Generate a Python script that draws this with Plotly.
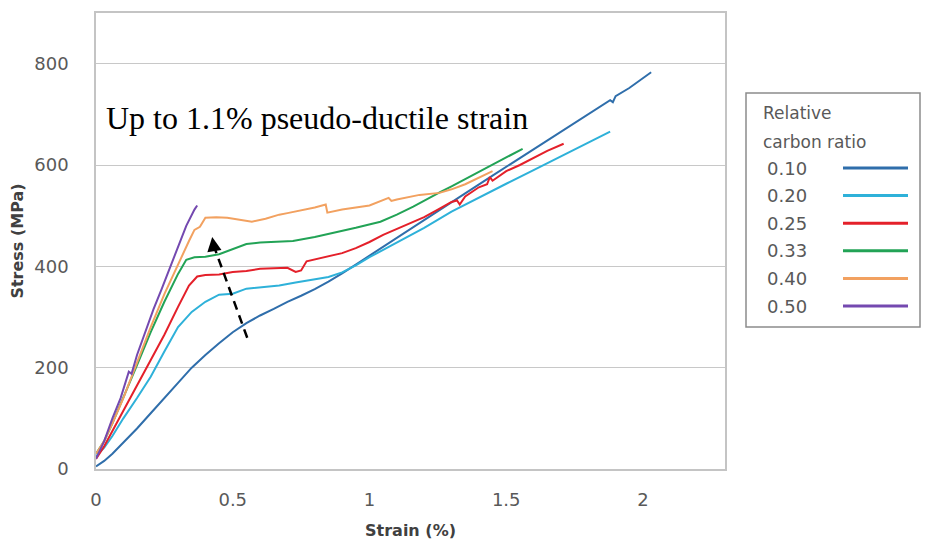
import plotly.graph_objects as go

# ---- data ----
ratio_labels = ["0.10", "0.20", "0.25", "0.33", "0.40", "0.50"]
colors = ["#2F6EAB", "#2EB1D9", "#E4202A", "#22A356", "#F2A160", "#7449B0"]

x_010 = [0, 0.03, 0.06, 0.1, 0.15, 0.2, 0.25, 0.3, 0.35, 0.4, 0.45, 0.5, 0.55, 0.6, 0.65, 0.7, 0.75, 0.8, 0.85,
         0.9, 0.96, 1.05, 1.15, 1.25, 1.35, 1.45, 1.55, 1.65, 1.75, 1.85, 1.88, 1.89, 1.9, 1.95, 2.0, 2.03]
y_010 = [5, 16, 30, 52, 80, 110, 141, 170, 200, 225, 248, 270, 288, 303, 316, 330, 342, 355, 370,
         386, 407, 439, 474, 509, 544, 579, 614, 649, 684, 719, 728, 724, 736, 752, 772, 783]

x_020 = [0, 0.03, 0.06, 0.1, 0.15, 0.2, 0.25, 0.3, 0.35, 0.4, 0.45, 0.5, 0.55, 0.6, 0.67, 0.73, 0.79, 0.85,
         0.9, 0.95, 1.0, 1.1, 1.2, 1.3, 1.4, 1.5, 1.6, 1.7, 1.8, 1.88]
y_020 = [25, 42, 65, 100, 140, 182, 232, 280, 310, 330, 344, 346, 356, 358, 362, 368, 373, 379,
         388, 402, 418, 447, 476, 508, 536, 563, 590, 617, 644, 666]

x_025 = [0, 0.03, 0.06, 0.1, 0.15, 0.2, 0.25, 0.3, 0.34, 0.37, 0.4, 0.45, 0.5, 0.55, 0.6, 0.65, 0.7, 0.73,
         0.75, 0.77, 0.8, 0.85, 0.9, 0.95, 1.0, 1.05, 1.1, 1.15, 1.2, 1.25, 1.3, 1.32, 1.33, 1.35, 1.4, 1.43,
         1.44, 1.45, 1.5, 1.55, 1.6, 1.65, 1.71]
y_025 = [20, 45, 75, 115, 165, 215, 265, 320, 362, 380, 383, 384, 389, 391, 395, 396, 397, 389,
         392, 410, 414, 420, 426, 436, 448, 462, 474, 486, 497, 512, 527, 530, 522, 538, 556, 562,
         576, 569, 588, 600, 614, 628, 642]

x_033 = [0, 0.03, 0.06, 0.1, 0.15, 0.2, 0.25, 0.3, 0.33, 0.36, 0.4, 0.45, 0.5, 0.55, 0.6, 0.67, 0.72, 0.8,
         0.89, 0.95, 1.04, 1.1, 1.16, 1.2, 1.26, 1.3, 1.35, 1.4, 1.45, 1.5, 1.56]
y_033 = [30, 55, 90, 140, 205, 270, 330, 385, 413, 418, 419, 424, 434, 444, 447, 449, 450, 458,
         468, 476, 488, 502, 518, 530, 547, 558, 572, 586, 600, 614, 632]

x_040 = [0, 0.03, 0.06, 0.1, 0.15, 0.2, 0.25, 0.3, 0.34, 0.36, 0.38, 0.40, 0.44, 0.48, 0.52, 0.57, 0.62,
         0.67, 0.70, 0.75, 0.8, 0.84, 0.846, 0.9, 0.95, 1.0, 1.07, 1.08, 1.1, 1.183, 1.256, 1.3, 1.35, 1.4, 1.45]
y_040 = [30, 55, 90, 140, 210, 280, 345, 405, 450, 472, 478, 496, 497, 496, 492, 488, 494,
         502, 505, 510, 516, 522, 506, 512, 516, 520, 535, 529, 532, 541, 545, 552, 562, 575, 588]

x_050 = [0, 0.03, 0.06, 0.09, 0.12, 0.13, 0.15, 0.18, 0.21, 0.24, 0.27, 0.30, 0.33, 0.36, 0.37]
y_050 = [20, 55, 100, 140, 192, 188, 225, 270, 315, 355, 397, 440, 480, 512, 520]

series_x = [x_010, x_020, x_025, x_033, x_040, x_050]
series_y = [y_010, y_020, y_025, y_033, y_040, y_050]

x_ticks = [0, 0.5, 1, 1.5, 2]
x_ticktext = ["0", "0.5", "1", "1.5", "2"]
y_ticks = [0, 200, 400, 600, 800]

arrow_tail = (0.553, 259)
arrow_head = (0.425, 458)
note_text = "Up to 1.1% pseudo-ductile strain"

# ---- figure ----
W, H = 928, 543
ML, MR, MT, MB = 96, 203, 13, 74
PW, PH = W - ML - MR, H - MT - MB


def px(xp):
    return (xp - ML) / PW


def py(yp):
    return (H - MB - yp) / PH


fig = go.Figure()
for xs, ys, c, name in zip(series_x, series_y, colors, ratio_labels):
    fig.add_trace(go.Scatter(x=xs, y=ys, mode="lines", name=name,
                             line=dict(color=c, width=2), showlegend=False))

SANS = "DejaVu Sans, Open Sans, sans-serif"
tick_font = dict(family=SANS, size=18, color="#595959")
title_font = dict(family=SANS, size=16, color="#404040")

fig.update_layout(
    width=W, height=H,
    margin=dict(l=ML, r=MR, t=MT, b=MB, pad=0),
    paper_bgcolor="white", plot_bgcolor="white",
    xaxis=dict(range=[0, 2.3], tickvals=x_ticks, ticktext=x_ticktext, showgrid=False, automargin=False,
               zeroline=False, showline=True, linecolor="#C4C4C4", linewidth=1.5, mirror=True,
               ticks="", tickfont=tick_font, ticklabelstandoff=14,
               title=dict(text="<b>Strain (%)</b>", font=title_font, standoff=15)),
    yaxis=dict(range=[0, 900], tickvals=y_ticks, showgrid=True, gridcolor="#C8C8C8", gridwidth=1.2,
               automargin=False,
               zeroline=True, zerolinecolor="#8C8C8C", zerolinewidth=1.5,
               showline=True, linecolor="#C4C4C4", linewidth=1.5, mirror=True,
               ticks="", tickfont=tick_font, ticklabelstandoff=22,
               title=dict(text="<b>Stress (MPa)</b>", font=title_font, standoff=7)),
    font=dict(family=SANS),
)

# dashed arrow
fig.add_shape(type="line", xref="x", yref="y",
              x0=arrow_tail[0], y0=arrow_tail[1], x1=arrow_head[0] + 0.006, y1=arrow_head[1] - 18,
              line=dict(color="black", width=2.5, dash="9px,6px"))
fig.add_annotation(x=arrow_head[0], y=arrow_head[1], ax=arrow_head[0] + 0.004, ay=arrow_head[1] - 14,
                   xref="x", yref="y", axref="x", ayref="y", text="", showarrow=True,
                   arrowhead=2, arrowsize=1.3, arrowwidth=2.2, arrowcolor="black")

# note text
fig.add_annotation(x=px(104), y=py(118), xref="paper", yref="paper", xanchor="left", yanchor="middle",
                   text=note_text, showarrow=False,
                   font=dict(family="Liberation Serif, Times New Roman, serif", size=32, color="black"))

# custom legend
fig.add_shape(type="rect", xref="paper", yref="paper",
              x0=px(746), x1=px(920), y0=py(327), y1=py(93),
              line=dict(color="#8C8C8C", width=1.5), fillcolor="white")
leg_font = dict(family=SANS, size=17, color="#595959")
fig.add_annotation(x=px(761), y=py(113), xref="paper", yref="paper", xanchor="left", yanchor="middle",
                   text="Relative", showarrow=False, font=leg_font)
fig.add_annotation(x=px(761), y=py(142), xref="paper", yref="paper", xanchor="left", yanchor="middle",
                   text="carbon ratio", showarrow=False, font=leg_font)
for i, (name, c) in enumerate(zip(ratio_labels, colors)):
    yc = 168 + 27.6 * i
    fig.add_annotation(x=px(765), y=py(yc), xref="paper", yref="paper", xanchor="left", yanchor="middle",
                       text=name, showarrow=False, font=dict(leg_font, size=18))
    fig.add_shape(type="line", xref="paper", yref="paper", x0=px(843), x1=px(908), y0=py(yc), y1=py(yc),
                  line=dict(color=c, width=3))

fig.write_html("out.html", config={"displayModeBar": False})
